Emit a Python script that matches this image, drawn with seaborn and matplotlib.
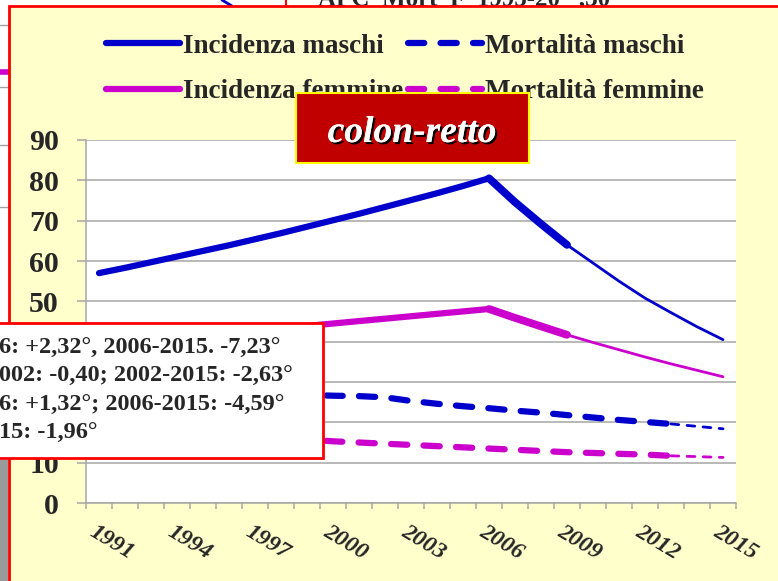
import numpy as np
import matplotlib.pyplot as plt
import matplotlib.patches as mpatches
import matplotlib.patheffects as pe
import matplotlib.transforms as mtransforms
from matplotlib.lines import Line2D
import seaborn as sns

# ------------------------------
# Data
# ------------------------------
years = [1991, 1992, 1993, 1994, 1995, 1996, 1997, 1998, 1999, 2000,
         2001, 2002, 2003, 2004, 2005, 2006, 2007, 2008, 2009, 2010,
         2011, 2012, 2013, 2014, 2015]
label_years = [1991, 1994, 1997, 2000, 2003, 2006, 2009, 2012, 2015]
y_ticks = [0, 10, 20, 30, 40, 50, 60, 70, 80, 90]

inc_m = [57.0, 58.3, 59.7, 61.1, 62.5, 63.9, 65.4, 66.9, 68.5, 70.1,
         71.7, 73.4, 75.1, 76.8, 78.6, 80.5, 74.6, 69.2, 64.0, 59.5,
         55.0, 50.8, 47.2, 43.7, 40.5]
inc_f = [39.5, 40.0, 40.6, 41.1, 41.7, 42.2, 42.8, 43.3, 43.9, 44.5,
         45.1, 45.7, 46.3, 46.9, 47.5, 48.1, 45.9, 43.8, 41.7, 39.8,
         38.0, 36.2, 34.5, 32.9, 31.3]
mort_m = [27.6, 27.5, 27.4, 27.3, 27.2, 27.1, 27.0, 26.9, 26.8, 26.6,
          26.5, 26.2, 25.3, 24.6, 24.0, 23.5, 22.9, 22.4, 21.8, 21.2,
          20.6, 20.1, 19.6, 19.0, 18.4]
mort_f = [18.6, 18.3, 18.0, 17.6, 17.3, 16.9, 16.5, 16.1, 15.7, 15.3,
          15.0, 14.7, 14.4, 14.1, 13.8, 13.5, 13.2, 12.9, 12.6, 12.4,
          12.2, 12.0, 11.7, 11.5, 11.3]

# thick (observed) part of the curves ends here, thin projection after
inc_break = [2006, 2009]
mort_break = [2013]

apc_lines = ["6: +2,32°, 2006-2015. -7,23°",
             "002: -0,40; 2002-2015: -2,63°",
             "6: +1,32°; 2006-2015: -4,59°",
             "15: -1,96°"]

BLUE = '#0000CC'
MAGENTA = '#CC00CC'
GRID = '#A6A6A6'
W, H = 778, 581

sns.set_style("white")
plt.rcParams['font.family'] = ['Liberation Serif', 'DejaVu Serif']


def fx(x):
    return x / W


def fy(y):
    return 1 - y / H


fig = plt.figure(figsize=(W / 100, H / 100), dpi=100)
fig.patch.set_facecolor('white')

# ------------------------------
# Slide background
# ------------------------------
fig.text(fx(318), fy(5), "APC  Mort  F  1995-20   ,30", fontsize=18,
         fontweight='bold', va='baseline', ha='left', zorder=-3)
fig.add_artist(Line2D([fx(286), fx(286)], [fy(0), fy(8)], color='red', lw=1.5, zorder=-3))
fig.add_artist(Line2D([fx(222), fx(232)], [fy(0), fy(6)], color=BLUE, lw=2, zorder=-3))
for yy in [25, 87, 145, 207]:
    fig.add_artist(Line2D([0, fx(9)], [fy(yy), fy(yy)], color='#A0A0A0', lw=1, zorder=-3))
fig.add_artist(Line2D([0, fx(8)], [fy(72), fy(72)], color=MAGENTA, lw=4, zorder=-3))
fig.add_artist(mpatches.Rectangle((0, 0), fx(8), fy(460),
                                  transform=fig.transFigure, facecolor='#9A9A9A',
                                  edgecolor='none', zorder=-3))

# yellow panel with red border
fig.add_artist(mpatches.Rectangle((fx(9), fy(620)), fx(800) - fx(9), fy(6) - fy(620),
                                  transform=fig.transFigure, facecolor='#FFFFCC',
                                  edgecolor='red', lw=2, zorder=-2))

# ------------------------------
# Chart
# ------------------------------
ax = fig.add_axes([fx(86), fy(503), fx(736) - fx(86), fy(140) - fy(503)])
ax.set_facecolor('white')
xpos = np.arange(len(years))


def draw(values, color, breaks, widths, dashes, label):
    cuts = [0] + [years.index(b) for b in breaks] + [len(years) - 1]
    first = None
    for i in range(len(cuts) - 1):
        a, b = cuts[i], cuts[i + 1]
        kw = dict(solid_capstyle='round', dash_capstyle='round')
        if dashes[i] is not None:
            kw['linestyle'] = (0, dashes[i])
        sns.lineplot(x=xpos[a:b + 1], y=values[a:b + 1], color=color, lw=widths[i],
                     errorbar=None, ax=ax, **kw)
        if first is None:
            first = ax.lines[-1]
    first.set_label(label)
    return first


h_im = draw(inc_m, BLUE, inc_break, [4.5, 5.6, 2.0], [None, None, None], "Incidenza maschi")
h_if = draw(inc_f, MAGENTA, inc_break, [4.5, 5.6, 2.0], [None, None, None], "Incidenza femmine")
h_mm = draw(mort_m, BLUE, mort_break, [4.5, 2.0], [(2.6, 2.6), (2.8, 3.0)], "Mortalità maschi")
h_mf = draw(mort_f, MAGENTA, mort_break, [4.5, 2.0], [(2.6, 2.6), (2.8, 3.0)], "Mortalità femmine")

ax.set_xlim(-0.5, len(years) - 0.5)
ax.set_ylim(0, 90)
ax.set_yticks(y_ticks)
ax.set_yticklabels([str(v) for v in y_ticks], fontsize=21.5, fontweight='bold')
ax.yaxis.grid(True, color=GRID, lw=1.1)
ax.xaxis.grid(False)
ax.set_axisbelow(True)
for s in ['top', 'right']:
    ax.spines[s].set_visible(False)
for s in ['left', 'bottom']:
    ax.spines[s].set_color(GRID)
    ax.spines[s].set_linewidth(1.1)

ax.tick_params(axis='y', which='major', left=True, length=6.5, width=1.1, color=GRID, pad=13)
ax.set_xticks(np.arange(-0.5, len(years)), minor=True)
ax.set_xticks([years.index(y) for y in label_years])
ax.set_xticklabels([str(y) for y in label_years], fontsize=17, fontweight='bold', style='italic')
ax.tick_params(axis='x', which='minor', bottom=True, length=4, width=1.1, color=GRID)
ax.tick_params(axis='x', which='major', bottom=True, length=0, pad=13)
shift = mtransforms.ScaledTranslation(-2 / 100, 0, fig.dpi_scale_trans)
for t in ax.get_xticklabels():
    t.set_rotation(-31)
    t.set_ha('left')
    t.set_va('top')
    t.set_rotation_mode('anchor')
    t.set_transform(t.get_transform() + shift)
ax.set_xlabel('')
ax.set_ylabel('')

# legend on top of the panel
ax.legend(handles=[h_im, h_if, h_mm, h_mf], ncol=2, loc='center left',
          bbox_to_anchor=(fx(106), fy(69)), bbox_transform=fig.transFigure,
          frameon=False, prop={'weight': 'bold', 'size': 19.5},
          handlelength=2.74, handletextpad=0.12, columnspacing=0.15,
          labelspacing=0.74, borderpad=0, borderaxespad=0)

# ------------------------------
# Boxes drawn over the chart
# ------------------------------
fig.add_artist(mpatches.Rectangle((fx(296), fy(163)), fx(529) - fx(296), fy(93) - fy(163),
                                  transform=fig.transFigure, facecolor='#C00000',
                                  edgecolor='#FFFF00', lw=1.5, zorder=6))
fig.text(fx(412), fy(142), "colon-retto", color='white', fontsize=27, fontweight='bold',
         style='italic', ha='center', va='baseline', zorder=7,
         path_effects=[pe.withSimplePatchShadow(offset=(1.5, -1.5), shadow_rgbFace='black', alpha=1),
                       pe.Normal()])

fig.add_artist(mpatches.Rectangle((fx(-5), fy(458)), fx(323) - fx(-5), fy(323) - fy(458),
                                  transform=fig.transFigure, facecolor='white',
                                  edgecolor='red', lw=2, zorder=6))
for i, line in enumerate(apc_lines):
    fig.text(fx(-1), fy(348 + 28.5 * i), line, fontsize=17.5, fontweight='bold',
             ha='left', va='center', zorder=7)

fig.savefig('out.png', dpi=100, facecolor=fig.get_facecolor())
